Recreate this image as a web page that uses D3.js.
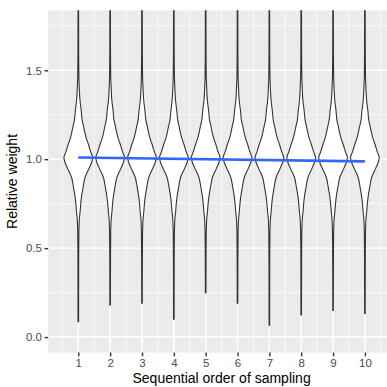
<!DOCTYPE html>
<html>
<head>
<meta charset="utf-8">
<script src="https://cdn.jsdelivr.net/npm/d3@7"></script>
<style>
  body { margin: 0; background: #fff; }
  svg { display: block; font-family: "Liberation Sans", Arial, sans-serif; }
</style>
</head>
<body>
<svg id="chart" width="387" height="387"></svg>
<script>
// sampling order (x) and the lowest weight of each violin
const samplingOrder = [1, 2, 3, 4, 5, 6, 7, 8, 9, 10];
const minWeight = [0.086, 0.18, 0.19, 0.10, 0.25, 0.19, 0.067, 0.124, 0.15, 0.133];

// shared density profile (density relative to the peak)
const profileWeight  = [0.0, 0.4, 0.55, 0.62, 0.67, 0.7, 0.74, 0.78, 0.84, 0.9, 0.95, 0.985, 1.01, 1.04, 1.08, 1.12, 1.18, 1.22, 1.27, 1.33, 1.4, 1.47, 1.6, 1.95];
const profileDensity = [0.02, 0.025, 0.035, 0.05, 0.08, 0.12, 0.16, 0.21, 0.33, 0.48, 0.76, 0.94, 1.0, 0.87, 0.72, 0.55, 0.38, 0.27, 0.21, 0.12, 0.07, 0.04, 0.025, 0.02];

// linear trend (geom_smooth, lm)
const trendX = [1, 10];
const trendY = [1.01, 0.988];

const yTicks = [0, 0.5, 1, 1.5];
const yMinor = [0.25, 0.75, 1.25, 1.75];
const xMinor = [0.5, 1.5, 2.5, 3.5, 4.5, 5.5, 6.5, 7.5, 8.5, 9.5, 10.5];

const margin = { top: 10.3, left: 48.2 };
const panelW = 346.8, panelH = 342.3;

const svg = d3.select("#chart");

const x = d3.scaleLinear().domain([0.055, 10.945]).range([margin.left, margin.left + panelW]);
const y = d3.scaleLinear().domain([-0.0875, 1.8375]).range([margin.top + panelH, margin.top]);

svg.append("defs").append("clipPath").attr("id", "panel-clip")
    .append("rect")
    .attr("x", margin.left).attr("y", margin.top)
    .attr("width", panelW).attr("height", panelH);

// panel background
svg.append("rect")
    .attr("x", margin.left).attr("y", margin.top)
    .attr("width", panelW).attr("height", panelH)
    .attr("fill", "#EBEBEB");

const grid = svg.append("g").attr("clip-path", "url(#panel-clip)");

grid.selectAll(".hminor").data(yMinor).enter().append("line")
    .attr("x1", margin.left).attr("x2", margin.left + panelW)
    .attr("y1", d => y(d)).attr("y2", d => y(d))
    .attr("stroke", "#fff").attr("stroke-width", 0.7);
grid.selectAll(".vminor").data(xMinor).enter().append("line")
    .attr("y1", margin.top).attr("y2", margin.top + panelH)
    .attr("x1", d => x(d)).attr("x2", d => x(d))
    .attr("stroke", "#fff").attr("stroke-width", 0.7);
grid.selectAll(".hmajor").data(yTicks).enter().append("line")
    .attr("x1", margin.left).attr("x2", margin.left + panelW)
    .attr("y1", d => y(d)).attr("y2", d => y(d))
    .attr("stroke", "#fff").attr("stroke-width", 1.4);
grid.selectAll(".vmajor").data(samplingOrder).enter().append("line")
    .attr("y1", margin.top).attr("y2", margin.top + panelH)
    .attr("x1", d => x(d)).attr("x2", d => x(d))
    .attr("stroke", "#fff").attr("stroke-width", 1.4);

// violins
const halfWidth = 0.45;
const violin = d3.area()
    .curve(d3.curveMonotoneY)
    .y(d => y(d.v))
    .x0(d => x(d.c - d.d * halfWidth))
    .x1(d => x(d.c + d.d * halfWidth));

const plot = svg.append("g").attr("clip-path", "url(#panel-clip)");

samplingOrder.forEach((c, i) => {
    const pts = [{ c: c, v: minWeight[i], d: profileDensity[0] }];
    profileWeight.forEach((v, j) => {
        if (v > minWeight[i]) pts.push({ c: c, v: v, d: profileDensity[j] });
    });
    plot.append("path")
        .attr("d", violin(pts))
        .attr("fill", "#fff")
        .attr("stroke", "#333333")
        .attr("stroke-width", 1.1);
});

// trend line
plot.append("path")
    .datum(trendX.map((d, i) => [d, trendY[i]]))
    .attr("d", d3.line().x(d => x(d[0])).y(d => y(d[1])))
    .attr("fill", "none")
    .attr("stroke", "#3366FF")
    .attr("stroke-width", 2.6);

// axes
const xAxis = svg.append("g")
    .attr("transform", "translate(0," + (margin.top + panelH) + ")")
    .call(d3.axisBottom(x).tickValues(samplingOrder).tickSize(3.7).tickPadding(2.5).tickFormat(d3.format("d")));
const yAxis = svg.append("g")
    .attr("transform", "translate(" + margin.left + ",0)")
    .call(d3.axisLeft(y).tickValues(yTicks).tickSize(3.7).tickPadding(2.5).tickFormat(d3.format(".1f")));

[xAxis, yAxis].forEach(a => {
    a.select(".domain").remove();
    a.selectAll(".tick line").attr("stroke", "#333333").attr("stroke-width", 1.4);
    a.selectAll(".tick text")
        .attr("fill", "#4D4D4D")
        .style("font-size", "11.5px")
        .style("font-family", "'Liberation Sans', Arial, sans-serif");
});

svg.append("text")
    .attr("x", margin.left + panelW / 2)
    .attr("y", 383)
    .attr("text-anchor", "middle")
    .style("font-size", "14px")
    .text("Sequential order of sampling");

svg.append("text")
    .attr("transform", "translate(17," + (margin.top + panelH / 2) + ") rotate(-90)")
    .attr("text-anchor", "middle")
    .style("font-size", "14px")
    .text("Relative weight");
</script>
</body>
</html>
